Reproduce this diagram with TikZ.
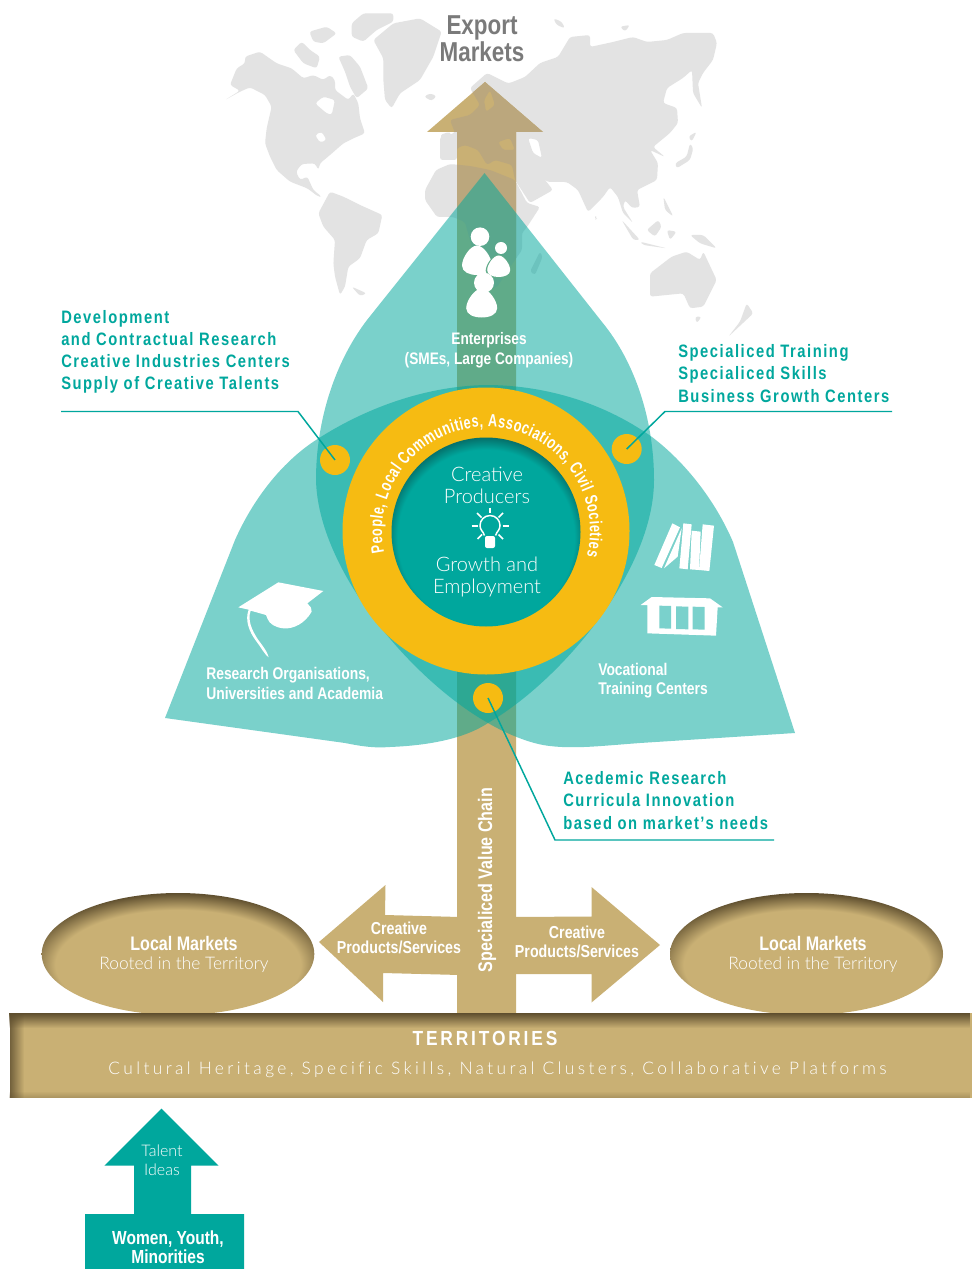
\documentclass[tikz,border=0pt]{standalone}
\usepackage{fontspec}
\usetikzlibrary{fadings,decorations.text}
\setmainfont{Liberation Sans}
\newfontfamily\bc[FakeStretch=0.82]{Liberation Sans Bold}
\newfontfamily\bcr[FakeStretch=0.72]{Liberation Sans Bold}
\newfontfamily\bcs[FakeStretch=0.82,LetterSpace=8.5]{Liberation Sans Bold}
\newfontfamily\bcw[FakeStretch=0.85,LetterSpace=14]{Liberation Sans Bold}
\newfontfamily\lt{Lato Light}
\newfontfamily\lts[LetterSpace=19.5,Ligatures=NoCommon]{Lato Light}
\definecolor{tealc}{HTML}{00A79D}
\definecolor{tanc}{HTML}{C9B074}
\definecolor{tanland}{HTML}{BBA77D}
\definecolor{yellowc}{HTML}{F6BB12}
\definecolor{landc}{HTML}{E3E3E3}
\definecolor{greyt}{HTML}{7A7A7A}
\definecolor{tandark}{HTML}{5E4E2E}
\definecolor{tealdark}{HTML}{05706A}
\definecolor{greenbody}{HTML}{60AB89}
\definecolor{lightteal}{HTML}{7AD1CC}
\pgfdeclareradialshading{ellshade}{\pgfpoint{0bp}{-8bp}}{color(0bp)=(tanc); color(22.5bp)=(tanc); color(28.4bp)=(tandark); color(50bp)=(tandark)}
\pgfdeclareradialshading{coreshade}{\pgfpoint{0bp}{-3bp}}{color(0bp)=(tealc); color(23.4bp)=(tealc); color(26.4bp)=(tealdark); color(50bp)=(tealdark)}
\tikzfading[name=fadedown, top color=transparent!0, bottom color=transparent!100]
\tikzfading[name=fadeup, top color=transparent!100, bottom color=transparent!0]
\tikzfading[name=faderight, left color=transparent!0, right color=transparent!100]
\tikzset{
  zoomed/.style 2 args={shift={(#1,#2)},x=.25pt,y=-.25pt},
  tealtxt/.style={inner sep=0,anchor=west,align=left,text=tealc,font=\bcs\fontsize{13.5}{16.6}\selectfont},
  whitetxt/.style={inner sep=0,align=center,text=white,font=\bc\fontsize{12.5}{15}\selectfont},
  whiteleft/.style={whitetxt,anchor=west,align=left,font=\bc\fontsize{12.7}{14.4}\selectfont},
  lighttxt/.style={inner sep=0,align=center,text=white,font=\lt\fontsize{15}{16.8}\selectfont},
  leader/.style={draw=tealc,line width=1.1pt,line join=miter},
  dotc/.style={circle,fill=yellowc,minimum size=22.5pt,inner sep=0},
  ray/.style={draw=white,line width=1.1pt},
  ic/.style={fill=white},
}
\newcommand{\worldmap}[1]{%
 \begin{scope}[rounded corners=2pt]
  \begin{scope}[zoomed={220}{0}]
    \fill[#1,even odd rule] (15,300)--(60,272)--(30,255)--(50,205)--(75,190)--(75,170)--(120,155)--(170,190)--(215,205)--(250,235)--(280,225)--(310,240)--(330,225)--(345,240)--(345,270)--(385,300)--(400,280)--(415,310)--(420,355)--(435,400)--(400,415)--(370,430)--(330,465)--(300,490)--(295,510)--(285,490)--(245,492)--(228,515)--(240,540)--(262,530)--(280,570)--(305,590)--(295,590)--(262,565)--(210,545)--(170,510)--(150,470)--(135,430)--(140,385)--(155,320)--(135,285)--(90,262)--(60,275)--cycle
      (285,310)--(310,290)--(345,300)--(335,345)--(320,340)--cycle
      (285,405)--(305,395)--(320,420)--(300,428)--cycle;
    \fill[#1] (220,150)--(245,125)--(270,150)--(300,170)--(290,205)--(250,190)--(235,170)--cycle;
    \fill[#1] (268,95)--(320,80)--(350,100)--(310,130)--(280,125)--cycle;
    \fill[#1] (355,170)--(390,165)--(420,200)--(445,265)--(410,295)--(390,260)--(375,215)--cycle;
    \fill[#1] (395,70)--(430,40)--(520,40)--(520,65)--(470,90)--(430,125)--(395,110)--cycle;
    \fill[#1] (460,120)--(520,70)--(600,55)--(665,95)--(640,170)--(600,240)--(540,280)--(515,325)--(495,300)--(490,240)--(490,175)--cycle;
    \fill[#1] (612,290)--(630,280)--(650,288)--(635,303)--cycle;
    \fill[#1] (295,640)--(330,575)--(370,590)--(420,615)--(487,645)--(475,700)--(440,720)--(420,775)--(385,800)--(375,860)--(360,885)--(345,830)--(340,790)--(345,720)--(310,680)--cycle;
    \fill[#1] (395,860)--(440,880)--(420,888)--cycle;
    \fill[#1] (660,405)--(690,395)--(700,425)--(672,430)--cycle;
  \end{scope}
  % Africa
  \fill[#1] (425,190)--(436,170)--(450,164)--(470,166)--(490,170)--(515,180)--(527,203)--(540,207)--(527,227)--(522,233)--(522,250)--(510,267)--(497,287)--(482,290)--(470,240)--(465,222)--(453,217)--(437,217)--(425,200)--cycle;
  % Eurasia
  \fill[#1,even odd rule] (470,88)--(487,73)--(507,83)--(510,83)--(525,77)--(540,63)--(558,57)--(570,37)--(590,35)--(590,47)--(613,42)--(633,37)--(647,42)--(667,40)--(683,33)--(713,33)--(717,43)--(713,60)--(703,73)--(698,83)--(702,108)--(693,93)--(692,70)--(683,78)--(667,88)--(663,103)--(677,108)--(678,123)--(670,133)--(653,147)--(665,157)--(650,150)--(658,163)--(657,180)--(637,190)--(640,207)--(632,208)--(625,200)--(623,207)--(633,223)--(623,213)--(618,197)--(610,187)--(603,197)--(588,212)--(578,190)--(567,182)--(548,182)--(533,172)--(545,180)--(553,190)--(530,203)--(515,180)--(512,165)--(495,160)--(487,165)--(478,150)--(465,145)--(457,148)--(457,160)--(440,160)--(440,137)--(455,133)--(450,120)--(470,115)--(480,105)--cycle
    (528,138)--(538,140)--(542,158)--(533,153)--cycle
    (498,142)--(510,138)--(515,150)--(503,150)--cycle
    (484,100)--(490,90)--(495,105)--(486,112)--cycle;
  \begin{scope}[zoomed={490}{0}]
    \fill[#1] (555,490)--(590,470)--(600,430)--(610,445)--(600,480)--(560,505)--cycle;
    \fill[#1] (595,410)--(620,395)--(605,425)--cycle;
    \fill[#1] (520,590)--(550,650)--(525,630)--cycle;
    \fill[#1] (395,660)--(450,720)--(430,720)--cycle;
    \fill[#1] (450,725)--(530,745)--(460,735)--cycle;
    \fill[#1] (470,690)--(505,660)--(515,680)--(495,710)--cycle;
    \fill[#1] (530,690)--(560,695)--(540,720)--cycle;
    \fill[#1] (600,705)--(640,705)--(680,745)--(630,730)--cycle;
    \fill[#1] (480,820)--(545,770)--(590,755)--(630,780)--(640,755)--(680,840)--(640,920)--(600,925)--(580,880)--(480,890)--cycle;
    \fill[#1] (615,950)--(635,950)--(620,970)--cycle;
    \fill[#1] (770,910)--(790,940)--(715,1010)--(750,965)--cycle;
    \fill[#1] (150,755)--(158,770)--(135,825)--(120,815)--cycle;
    \fill[#1] (315,645)--(322,655)--(315,660)--cycle;
    \fill[#1] (190,55)--(215,65)--(225,85)--(200,75)--cycle;
    \fill[#1] (390,80)--(420,75)--(405,95)--cycle;
  \end{scope}
 \end{scope}
}
\newcommand{\egg}[5]{\fill[#5,shift={(#1,#2)},x=#3*.75pt,y=-#4*.75pt] (0,0) .. controls (.45,0) and (1,.42) .. (1,.68) .. controls (1,.9) and (.5,1) .. (0,1) .. controls (-.5,1) and (-1,.9) .. (-1,.68) .. controls (-1,.42) and (-.45,0) .. cycle;}
\newcommand{\topdrop}{(484.5,173) -- (602,322) .. controls (635,362) and (654,420) .. (654,480) .. controls (654,570) and (562,680) .. (488,723) .. controls (412,680) and (318,570) .. (316,480) .. controls (316,420) and (335,362) .. (367,320) -- cycle}
\newcommand{\wings}{(165,718) -- (235,540) .. controls (255,495) and (285,460) .. (316,440) .. controls (370,405) and (430,386) .. (486,385) .. controls (540,385) and (600,400) .. (652,437) .. controls (685,462) and (715,500) .. (733,542) -- (795,733) -- (640,743) .. controls (600,746) and (575,749) .. (550,746) .. controls (530,744) and (505,733) .. (488,723) .. controls (470,735) and (440,745) .. (390,747) .. controls (375,748) and (365,747) .. (345,743) -- cycle}
\begin{document}
\begin{tikzpicture}[x=.75pt,y=-.75pt]
\useasboundingbox (0,0) rectangle (972,1269);
\fill[white] (0,0) rectangle (972,1269);
% map
\worldmap{landc}
% up arrow + shaft
\def\uparrowpath{(485,82) -- (543,132) -- (516,132) -- (516,1013) -- (457,1013) -- (457,132) -- (427,132) -- cycle}
\fill[tanc] \uparrowpath;
\begin{scope}
  \clip \uparrowpath;
  \worldmap{tanland}
\end{scope}
% side arrows
\fill[tanc] (460,917) -- (385,915) -- (385.5,885) -- (319,942) -- (383,1002) -- (383,973) -- (460,975) -- cycle;
\fill[tanc] (514,917) -- (591.5,916.5) -- (591.5,887) -- (660,945) -- (591.5,1002.5) -- (591.5,974) -- (514,974) -- cycle;
% teal drops
\fill[tealc,fill opacity=.52] \topdrop \wings;
\begin{scope}
  \clip \topdrop;
  \fill[tealc,fill opacity=.52] \wings;
\end{scope}
% ring
\node[circle,fill=yellowc,minimum size=215.25pt,inner sep=0] (ring) at (486,531) {};
\path[shading=coreshade] (486,532) circle[radius=94.5];
\path[decorate,decoration={text along path,text align={fit to path},text={|\bcr\fontsize{13.2}{15}\selectfont\color{white}|People, Local Communities, Associations, Civil Societies}}]
  (486,531) ++(168:104) arc[start angle=168,end angle=374,radius=104];
% dots
\node[dotc] (d1) at (335,460) {};
\node[dotc] (d2) at (626.7,449) {};
\node[dotc] (d3) at (488,698) {};
\coordinate (k1) at (298,411.5); \coordinate (e1) at (61,411.5);
\coordinate (k2) at (665,411.5); \coordinate (e2) at (892,411.5);
\coordinate (k3) at (555,840); \coordinate (e3) at (774,840);
\draw[leader] (d1.center) -- (k1) -- (e1);
\draw[leader] (d2.center) -- (k2) -- (e2);
\draw[leader] (d3.center) -- (k3) -- (e3);
% labels teal
\node[tealtxt] (t1) at (61,352) {Development\\and Contractual Research\\Creative Industries Centers\\Supply of Creative Talents};
\node[tealtxt] (t2) at (678,373.5) {Specialiced Training\\Specialiced Skills\\Business Growth Centers};
\node[tealtxt] (t3) at (563,800.5) {Acedemic Research\\Curricula Innovation\\based on market’s needs};
% export
\node[inner sep=0,align=center,text=greyt,font=\bc\fontsize{20.5}{18.6}\selectfont] (ex) at (482,39) {Export\\Markets};
% centre text
\node[lighttxt] (c1) at (487,485.5) {Creative\\Producers};
\node[lighttxt] (c2) at (487,577) {Growth and\\Employment};
% bulb
\draw[ray] (484.5,535.5) .. controls (483,531) and (480,530) .. (480,525.5) arc[start angle=180,end angle=360,radius=10] .. controls (500,530) and (497,531) .. (495.5,535.5);
\fill[white,rounded corners=1.5pt] (485,536) rectangle (495,548);
\draw[ray] (490,507.5)--(490,513);
\draw[ray] (471.5,526)--(478,526);
\draw[ray] (502.5,526)--(509,526);
\draw[ray] (477,513)--(481.5,517.5);
\draw[ray] (503,513)--(498.5,517.5);
\draw[ray] (477.5,539)--(482,534.5);
\draw[ray] (503,539)--(498.5,534.5);
% people
\fill[white] (480,236.7) circle[radius=9.3];
\egg{477}{245.5}{15}{29.5}{white}
\fill[white] (501,248) circle[radius=6];
\egg{498.7}{254.5}{13}{24}{greenbody}
\egg{498.7}{255.5}{11.5}{21.5}{white}
\fill[white] (484,282.7) circle[radius=10];
\egg{481.7}{288.5}{15.5}{29}{white}
% cap
\begin{scope}[zoomed={150}{540}]
  \fill[ic] (265,202)--(385,127)--(520,153)--(472,190) .. controls (480,200) and (488,205) .. (485,215) .. controls (465,250) and (430,268) .. (400,265) .. controls (375,262) and (358,252) .. (352,235) -- (348,225) -- (302,212) .. controls (292,240) and (305,270) .. (325,300) .. controls (340,320) and (352,335) .. (356,352) .. controls (345,345) and (335,325) .. (319,304) .. controls (297,275) and (284,240) .. (296,209) -- cycle;
\end{scope}
% books and house
\begin{scope}[zoomed={590}{500}]
  \fill[ic] (193,195)--(247,70)--(270,82)--(215,204)--cycle;
  \fill[ic] (222,205)--(275,85)--(263,170)--cycle;
  \fill[ic] (280,70)--(305,73)--(293,208)--(268,205)--cycle;
  \fill[ic] (305,92)--(332,95)--(327,210)--(300,208)--cycle;
  \fill[ic] (338,73)--(372,77)--(358,213)--(327,210)--cycle;
  \fill[ic] (152,315)--(185,291)--(360,295)--(398,322)--(383,322)--(378,407)--(172,400)--(172,315)--cycle;
  \fill[lightteal] (208,317)--(243,318)--(243,386)--(208,385)--cycle;
  \fill[lightteal] (258,319)--(295,320)--(295,388)--(258,387)--cycle;
  \fill[lightteal] (308,320)--(344,321)--(344,389)--(308,388)--cycle;
\end{scope}
% white labels
\node[whitetxt] (ent) at (489,350) {Enterprises\\(SMEs, Large Companies)};
\node[whiteleft] (res) at (206,683.5) {Research Organisations,\\Universities and Academia};
\node[whiteleft] (voc) at (598,681) {Vocational\\Training Centers};
\node[whitetxt,rotate=90,font=\bc\fontsize{14.7}{15}\selectfont] (chain) at (487,880) {Specialiced Value Chain};
\node[whitetxt,font=\bc\fontsize{13}{14.4}\selectfont] (cl) at (399,938) {Creative\\Products/Services};
\node[whitetxt,font=\bc\fontsize{13}{14.4}\selectfont] (cr) at (577,942) {Creative\\Products/Services};
% ellipses
\path[shading=ellshade] (178,954) ellipse[x radius=136.3,y radius=61];
\path[shading=ellshade] (806.5,954) ellipse[x radius=136.5,y radius=61];
\node[inner sep=0,align=center,text=white,font=\bc\fontsize{14.7}{15}\selectfont] (lm1) at (184,943) {Local Markets};
\node[inner sep=0,align=center,text=white,font=\lt\fontsize{13}{15}\selectfont] (rt1) at (184,964.5) {Rooted in the Territory};
\node[inner sep=0,align=center,text=white,font=\bc\fontsize{14.7}{15}\selectfont] (lm2) at (813,943) {Local Markets};
\node[inner sep=0,align=center,text=white,font=\lt\fontsize{13}{15}\selectfont] (rt2) at (813,964.5) {Rooted in the Territory};
% bar
\fill[tanc] (10,1013) rectangle (972,1098);
\fill[tandark,path fading=fadedown] (10,1013) rectangle (972,1028);
\fill[tandark,path fading=faderight,fill opacity=.8] (10,1013) rectangle (24,1098);
\fill[tandark,path fading=fadeup,fill opacity=.3] (10,1091) rectangle (972,1098);
\node[inner sep=0,text=white,font=\bcw\fontsize{15.3}{18}\selectfont] (terr) at (485,1038) {TERRITORIES};
\node[inner sep=0,text=white,font=\lts\fontsize{13}{16}\selectfont] (cult) at (497.5,1070) {Cultural Heritage, Specific Skills, Natural Clusters, Collaborative Platforms};
% talent arrow
\fill[tealc] (161.5,1108.5) -- (218.7,1165.7) -- (191,1165.7) -- (191,1214) -- (244,1214) -- (244,1269) -- (85,1269) -- (85,1214) -- (134,1214) -- (134,1165.7) -- (104.3,1165.7) -- cycle;
\node[inner sep=0,align=center,text=white,font=\lt\fontsize{12}{14.2}\selectfont] (ti) at (162,1160.5) {Talent\\Ideas};
\node[inner sep=0,align=center,text=white,font=\bc\fontsize{14.2}{14.6}\selectfont] (wy) at (168,1247) {Women, Youth,\\Minorities};
\end{tikzpicture}
\end{document}
